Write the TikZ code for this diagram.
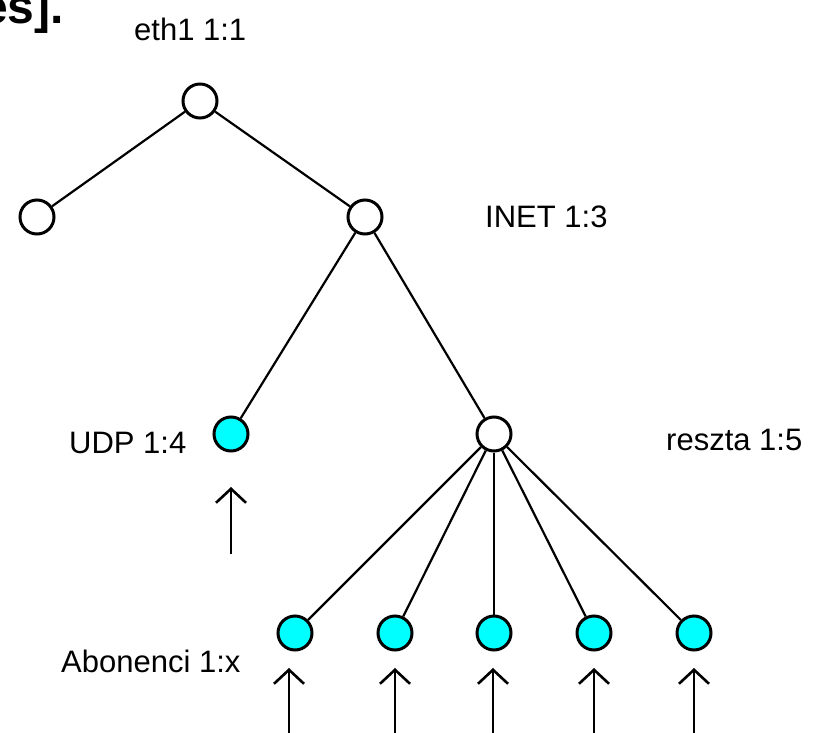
\documentclass[tikz,border=0pt]{standalone}
\usepackage{fontspec}
\setmainfont{Liberation Sans}
\usetikzlibrary{arrows.meta}
\definecolor{aqua}{RGB}{0,255,255}
\begin{document}
\begin{tikzpicture}[x=1pt,y=-1pt,
  every node/.style={font=\fontsize{31}{35}\selectfont},
  nd/.style={circle,draw=black,line width=3pt,minimum size=34pt,inner sep=0pt,fill=white},
  leaf/.style={nd,fill=aqua},
  edge/.style={line width=2.2pt},
  up/.style={line width=2.6pt,-{Straight Barb[length=14pt,width=30pt,line width=2.6pt]}},
  lbl/.style={inner sep=0pt,anchor=west}]
\useasboundingbox (0,0) rectangle (827,733);
\node[inner sep=0pt,anchor=base east,font=\fontsize{48}{52}\selectfont\bfseries] (hdr) at (64,24) {es].};
\node[nd] (root) at (200,101) {};
\node[nd] (left) at (37,217) {};
\node[nd] (inet) at (365,217) {};
\node[leaf] (udp) at (231,434) {};
\node[nd] (rest) at (494,434) {};
\node[leaf] (a1) at (295,633) {};
\node[leaf] (a2) at (395,633) {};
\node[leaf] (a3) at (494,633) {};
\node[leaf] (a4) at (594,633) {};
\node[leaf] (a5) at (694,633) {};
\draw[edge] (root) -- (left);
\draw[edge] (root) -- (inet);
\draw[edge] (inet) -- (udp);
\draw[edge] (inet) -- (rest);
\foreach \n in {a1,a2,a3,a4,a5} \draw[edge] (rest) -- (\n);
\node[lbl] (l1) at (134,29) {eth1 1:1};
\node[lbl] (l3) at (485,217) {INET 1:3};
\node[lbl] (l4) at (69,443) {UDP 1:4};
\node[lbl] (l5) at (666,440) {reszta 1:5};
\node[lbl] (lx) at (61,661) {Abonenci 1:x};
\coordinate (ub) at (231,554);
\coordinate (ut) at (231,487);
\draw[up] (ub) -- (ut);
\foreach \i/\x in {1/289,2/395,3/493,4/594,5/694} {
  \coordinate (b\i) at (\x,740);
  \coordinate (t\i) at (\x,668);
  \draw[up] (b\i) -- (t\i);
}
\end{tikzpicture}
\end{document}
